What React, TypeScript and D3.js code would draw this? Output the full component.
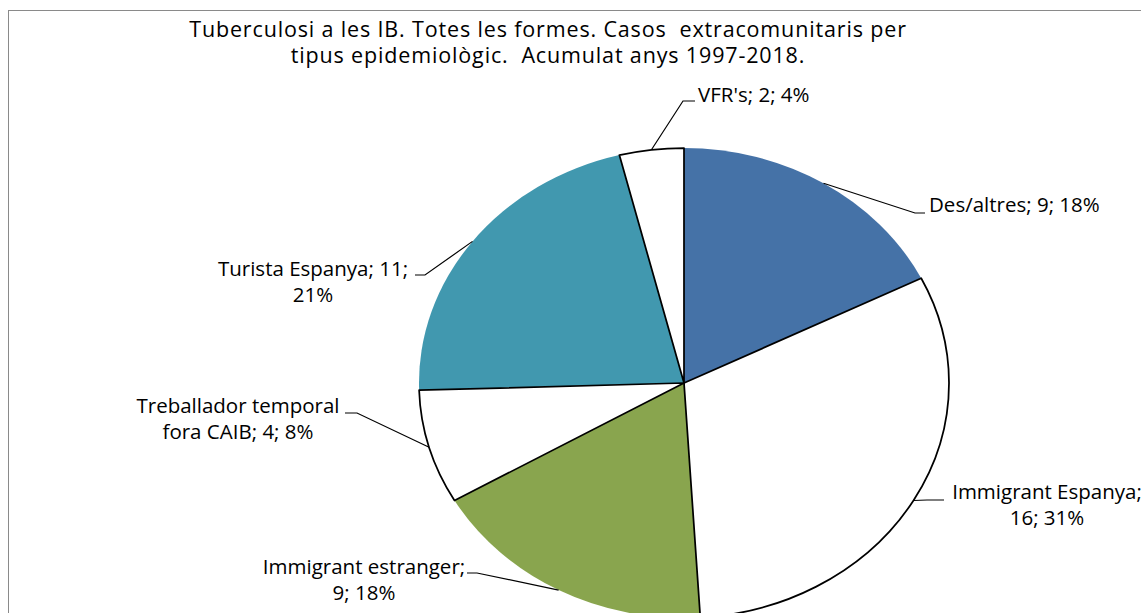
import React from "react";
import * as d3 from "d3";

const categories = ["Des/altres", "Immigrant Espanya", "Immigrant estranger", "Treballador temporal fora CAIB", "Turista Espanya", "VFR's"];
const values = [9, 16, 9, 4, 11, 2];
const labelLines = [
  ["Des/altres; 9; 18%"],
  ["Immigrant Espanya;", "16; 31%"],
  ["Immigrant estranger;", "9; 18%"],
  ["Treballador temporal", "fora CAIB; 4; 8%"],
  ["Turista Espanya; 11;", "21%"],
  ["VFR's; 2; 4%"],
];
const colors = ["#4572A7", "#FFFFFF", "#89A54E", "#FFFFFF", "#4198AF", "#FFFFFF"];
const titleLines = [
  "Tuberculosi a les IB. Totes les formes. Casos  extracomunitaris per",
  "tipus epidemiològic.  Acumulat anys 1997-2018.",
];

// label layout: elbow point, horizontal end, text anchor info (ty = first baseline)
const labelLayout = [
  { elbow: [915, 213], end: [925, 213], tx: 929, ty: 212, anchor: "start" },
  { elbow: [927, 500], end: [944, 500], tx: 1047, ty: 499, anchor: "middle" },
  { elbow: [477, 573], end: [467, 573], tx: 364, ty: 574, anchor: "middle" },
  { elbow: [357, 413], end: [345, 413], tx: 238, ty: 413, anchor: "middle" },
  { elbow: [425, 275], end: [415, 275], tx: 313, ty: 276, anchor: "middle" },
  { elbow: [683, 101], end: [695, 101], tx: 698, ty: 102, anchor: "start" },
];

const W = 1141, H = 613;
const cx = 684, cy = 383, rx = 265, ry = 235;
const FONT = "'Open Sans', 'Noto Sans', sans-serif";

export default function App() {
  const pie = d3.pie<number>().sort(null).value((d) => d)(values);
  const arc = d3.arc<d3.PieArcDatum<number>>().innerRadius(0).outerRadius(ry);
  const sx = rx / ry;
  const order = [0, 2, 4, 1, 3, 5];
  return (
    <svg width={W} height={H} style={{ position: "absolute", left: 0, top: 0, background: "#fff" }} fontFamily={FONT}>
      <rect x={8.5} y={10.5} width={1200} height={700} fill="#fff" stroke="#8a8a8a" strokeWidth={1} />
      {titleLines.map((t, i) => (
        <text key={i} x={548} y={36.5 + i * 26.5} textAnchor="middle" fontSize={21.5} letterSpacing={0.85} fill="#000" style={{ whiteSpace: "pre" }}>{t}</text>
      ))}
      <g transform={`translate(${cx},${cy}) scale(${sx},1)`}>
        {order.map((i) => (
          <path
            key={i}
            d={arc(pie[i]) || ""}
            fill={colors[i]}
            stroke={colors[i] === "#FFFFFF" ? "#000" : "none"}
            strokeWidth={1.75}
            vectorEffect="non-scaling-stroke"
            strokeLinejoin="round"
          />
        ))}
      </g>
      {pie.map((p, i) => {
        const a = (p.startAngle + p.endAngle) / 2;
        const x0 = cx + rx * Math.sin(a);
        const y0 = cy - ry * Math.cos(a);
        const L = labelLayout[i];
        return (
          <g key={i}>
            <polyline
              points={`${x0},${y0} ${L.elbow[0]},${L.elbow[1]} ${L.end[0]},${L.end[1]}`}
              fill="none"
              stroke="#000"
              strokeWidth={1.2}
            />
            {labelLines[i].map((t, j) => (
              <text key={j} x={L.tx} y={L.ty + j * 25.5} textAnchor={L.anchor} fontSize={20.5} fill="#000">{t}</text>
            ))}
          </g>
        );
      })}
    </svg>
  );
}
